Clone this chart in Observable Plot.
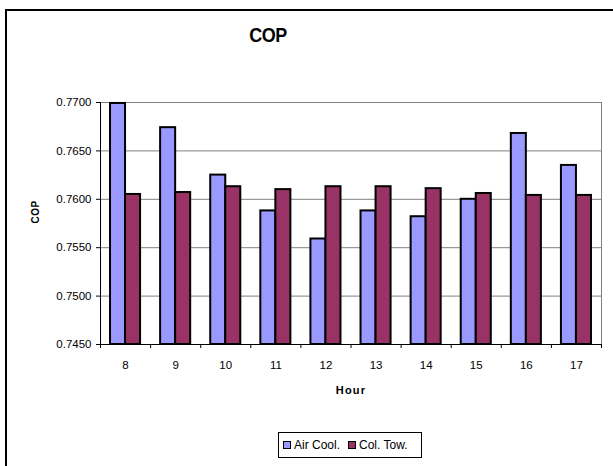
<!DOCTYPE html>
<html>
<head>
<meta charset="utf-8">
<script src="https://cdn.jsdelivr.net/npm/d3@7"></script>
<script src="https://cdn.jsdelivr.net/npm/@observablehq/plot@0.6"></script>
<style>
  html, body { margin: 0; padding: 0; background: #fff; overflow: hidden; width: 613px; height: 466px; }
  body { position: relative; font-family: "Liberation Sans", Arial, sans-serif; }
  #border { position: absolute; left: 5px; top: 9px; width: 700px; height: 600px; border: 2px solid #000; box-sizing: border-box; }
  #title { position: absolute; left: 268px; top: 25px; transform: translateX(-50%) scaleY(1.1); font-weight: bold; font-size: 18px; letter-spacing: -0.5px; color: #000; white-space: nowrap; }
  #chart { position: absolute; left: 0; top: 0; }
  #legend { position: absolute; left: 278px; top: 432px; width: 144px; height: 26px; border: 1px solid #000; box-sizing: border-box; background: #fff;
            display: flex; align-items: center; font-size: 12px; color: #000; white-space: nowrap; }
  .sw { display: inline-block; width: 6px; height: 6px; border: 1.5px solid #000; margin-right: 3px; }
</style>
</head>
<body>
<div id="border"></div>
<div id="title">COP</div>
<div id="chart"></div>
<div id="legend">
  <span class="sw" style="background:#9999FF;margin-left:4px"></span><span>Air Cool.</span>
  <span class="sw" style="background:#993366;margin-left:8px"></span><span>Col. Tow.</span>
</div>
<script>
const hours = [8, 9, 10, 11, 12, 13, 14, 15, 16, 17];
const airCool = [0.7699, 0.7674, 0.7625, 0.7588, 0.7559, 0.7588, 0.7582, 0.7600, 0.7668, 0.7635];
const colTow = [0.7605, 0.7607, 0.7613, 0.7610, 0.7613, 0.7613, 0.7611, 0.7606, 0.7604, 0.7604];
const seriesNames = ["Air Cool.", "Col. Tow."];
const seriesColors = ["#9999FF", "#993366"];
const yTicks = [0.745, 0.750, 0.755, 0.760, 0.765, 0.770];
const yMin = 0.745, yMax = 0.770;
const barWidth = 0.3; // fraction of category width per bar

const rows = [];
hours.forEach((h, i) => {
  rows.push({hour: h, series: seriesNames[0], value: airCool[i], x1: h - barWidth, x2: h});
  rows.push({hour: h, series: seriesNames[1], value: colTow[i], x1: h, x2: h + barWidth});
});
const boundaries = [...hours.map(h => h - 0.5), hours[hours.length - 1] + 0.5];

const chart = Plot.plot({
  width: 613,
  height: 466,
  marginLeft: 100,
  marginRight: 12,
  marginTop: 102,
  marginBottom: 122,
  style: {fontFamily: "'Liberation Sans', Arial, sans-serif", fontSize: "11px", color: "#000", background: "transparent"},
  x: {type: "linear", domain: [hours[0] - 0.5, hours[hours.length - 1] + 0.5], axis: null},
  y: {domain: [yMin, yMax], axis: null},
  color: {domain: seriesNames, range: seriesColors},
  marks: [
    Plot.gridY(yTicks, {stroke: "#808080", strokeOpacity: 1}),
    Plot.frame({stroke: "#808080"}),
    Plot.rect(rows, {x1: "x1", x2: "x2", y1: () => yMin, y2: "value", fill: "series", stroke: "#000", strokeWidth: 2}),
    Plot.ruleX([hours[0] - 0.5], {stroke: "#000"}),
    Plot.ruleY([yMin], {stroke: "#000"}),
    Plot.axisY(yTicks, {tickFormat: d3.format(".4f"), tickSize: 4, tickPadding: 5, label: null, stroke: "#000", fontSize: 11.5}),
    Plot.axisX(boundaries, {tickSize: 4, tickFormat: () => "", label: null, stroke: "#000"}),
    Plot.axisX(hours, {tickSize: 0, tickPadding: 16, label: null, fontSize: 11.5}),
    Plot.text(["COP"], {frameAnchor: "left", dx: -65, rotate: -90, fontWeight: "bold", fontSize: 10}),
    Plot.text(["Hour"], {frameAnchor: "bottom", dy: 49, fontWeight: "bold", fontSize: 11})
  ]
});
chart.querySelectorAll("text").forEach(t => {
  if (t.textContent === "Hour") t.style.letterSpacing = "1.2px";
  if (t.textContent === "COP") t.style.letterSpacing = "0.5px";
});
document.getElementById("chart").appendChild(chart);
</script>
</body>
</html>
